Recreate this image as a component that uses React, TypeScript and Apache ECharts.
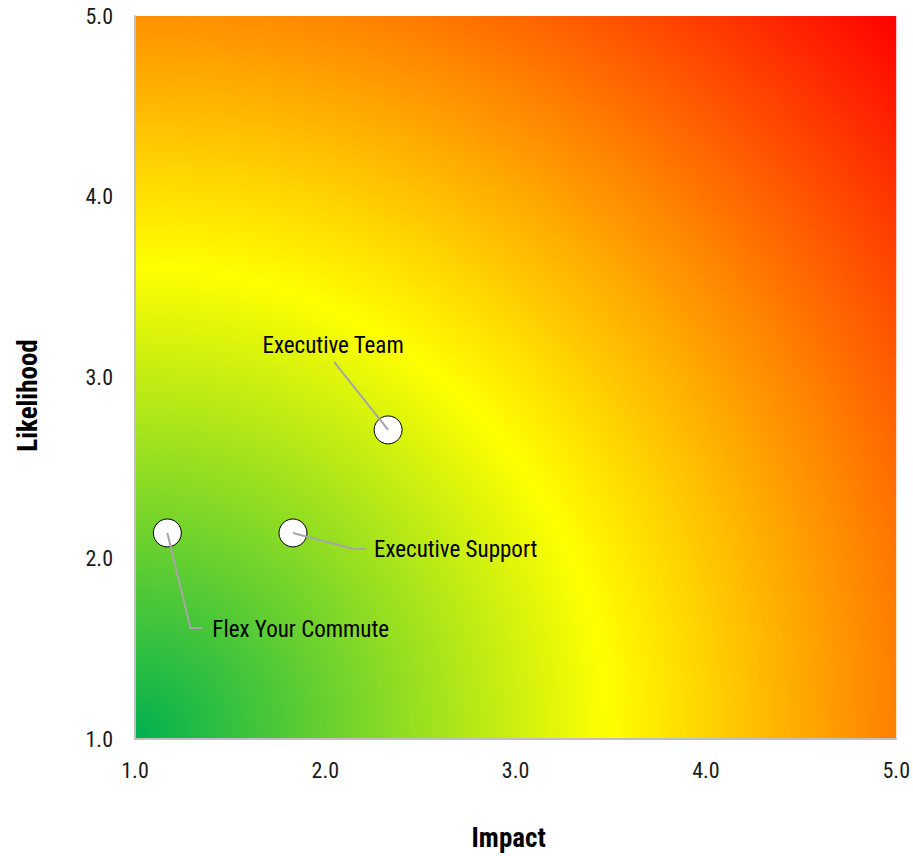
import React, { useEffect, useRef } from 'react';
import * as echarts from 'echarts';

// ---- data ----
const risks = ['Flex Your Commute', 'Executive Support', 'Executive Team'];
const impact = [1.17, 1.83, 2.33];
const likelihood = [2.14, 2.14, 2.71];
const axisMin = 1;
const axisMax = 5;
const axisStep = 1;

// ---- label layout (pixel offsets from the point) ----
const labelLayouts = [
  { line: [[23, 95], [35, 95]], text: [45, 97], align: 'left' },
  { line: [[61, 16], [73, 16]], text: [81, 17], align: 'left' },
  { line: [[-54, -68]], text: [-55, -84], align: 'center' },
];

const FONT = "'Liberation Sans Narrow', 'Arial Narrow', 'Roboto Condensed', 'Liberation Sans', sans-serif";

export default function App() {
  const ref = useRef<HTMLDivElement>(null);
  useEffect(() => {
    if (!ref.current) return;
    const chart = echarts.init(ref.current, undefined, { renderer: 'svg' });
    const data = risks.map((name, i) => ({ name, value: [impact[i], likelihood[i]] }));
    chart.setOption({
      animation: false,
      backgroundColor: '#ffffff',
      textStyle: { fontFamily: FONT },
      grid: {
        left: 135,
        right: 15,
        top: 16,
        bottom: 117,
        show: true,
        borderWidth: 0,
        backgroundColor: {
          type: 'radial',
          x: 135,
          y: 739,
          r: 1051,
          global: true,
          colorStops: [
            { offset: 0, color: '#00b050' },
            { offset: 0.45, color: '#ffff00' },
            { offset: 1, color: '#ff0000' },
          ],
        },
      },
      xAxis: {
        type: 'value',
        min: axisMin,
        max: axisMax,
        interval: axisStep,
        name: 'Impact',
        nameLocation: 'middle',
        nameGap: 85,
        nameTextStyle: {
          fontFamily: FONT,
          fontSize: 27,
          fontWeight: 'bold',
          color: '#000',
          padding: [0, 14, 0, 0],
        },
        axisLine: { show: true, lineStyle: { color: '#bfbfbf', width: 2 } },
        axisTick: { show: false },
        splitLine: { show: false },
        axisLabel: {
          formatter: (v: number) => v.toFixed(1),
          fontFamily: FONT,
          fontSize: 22,
          color: '#1a1a1a',
          margin: 20,
        },
      },
      yAxis: {
        type: 'value',
        min: axisMin,
        max: axisMax,
        interval: axisStep,
        name: 'Likelihood',
        nameLocation: 'middle',
        nameGap: 94,
        nameTextStyle: {
          fontFamily: FONT,
          fontSize: 27,
          fontWeight: 'bold',
          color: '#000',
          padding: [0, 36, 0, 0],
        },
        axisLine: { show: true, lineStyle: { color: '#bfbfbf', width: 2 } },
        axisTick: { show: false },
        splitLine: { show: false },
        axisLabel: {
          formatter: (v: number) => v.toFixed(1),
          fontFamily: FONT,
          fontSize: 22,
          color: '#1a1a1a',
          margin: 22,
        },
      },
      series: [
        {
          type: 'custom',
          data,
          clip: false,
          renderItem: (params: any, api: any) => {
            const p = api.coord([api.value(0), api.value(1)]);
            const L = labelLayouts[params.dataIndex];
            const pts = [p, ...L.line.map((o) => [p[0] + o[0], p[1] + o[1]])];
            return {
              type: 'group',
              children: [
                {
                  type: 'circle',
                  shape: { cx: p[0], cy: p[1], r: 14 },
                  style: { fill: '#ffffff', stroke: '#000000', lineWidth: 1 },
                },
                {
                  type: 'polyline',
                  shape: { points: pts },
                  style: { stroke: '#a6a6a6', lineWidth: 2, fill: null },
                },
                {
                  type: 'text',
                  x: p[0] + L.text[0],
                  y: p[1] + L.text[1],
                  style: {
                    text: risks[params.dataIndex],
                    fill: '#000000',
                    fontSize: 23,
                    fontFamily: FONT,
                    align: L.align,
                    verticalAlign: 'middle',
                  },
                },
              ],
            };
          },
        },
      ],
    });
    return () => chart.dispose();
  }, []);
  return (
    <div
      ref={ref}
      style={{ position: 'fixed', left: 0, top: 0, width: 913, height: 856 }}
    />
  );
}
